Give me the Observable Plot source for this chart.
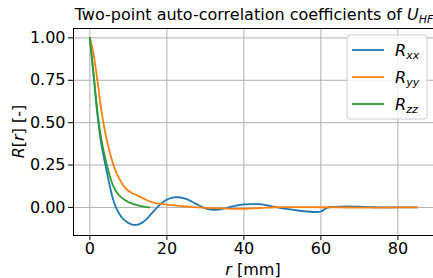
<!DOCTYPE html>
<html>
<head>
<meta charset="utf-8">
<script src="https://cdn.jsdelivr.net/npm/d3@7"></script>
<script src="https://cdn.jsdelivr.net/npm/@observablehq/plot@0.6"></script>
<style>
  html, body { margin: 0; padding: 0; background: white; }
  #chart svg { display: block; }
</style>
</head>
<body>
<div id="chart"></div>
<script>
// ---- data ----
const seriesNames = ["xx", "yy", "zz"];
const seriesColors = ["#1f77b4", "#ff7f0e", "#2ca02c"];
const xTicks = [0, 20, 40, 60, 80];
const yTicks = [0, 0.25, 0.5, 0.75, 1.0];

const rxxR = [0,1,2,3,4,5,6,7,8,9,10,11,12,13,14,15,16,17,18,19,20,21,22,23,24,25,26,27,28,29,30,31,32,33,34,35,36,37,38,39,40,42,44,46,48,50,52,54,56,58,59,60,61,62,63,65,67,69,71,74,77,80,85];
const rxxV = [1,0.77,0.54,0.37,0.255,0.145,0.05,-0.01,-0.05,-0.075,
  -0.092,-0.101,-0.103,-0.097,-0.083,-0.062,-0.037,-0.012,0.012,0.032,
  0.046,0.055,0.059,0.06,0.057,0.05,0.04,0.028,0.016,0.005,
  -0.005,-0.011,-0.014,-0.014,-0.011,-0.006,0.0,0.006,0.011,0.015,
  0.018,0.02,0.019,0.012,0.003,-0.005,-0.012,-0.018,-0.023,-0.027,
  -0.027,-0.024,-0.01,0.0,0.003,0.005,0.006,0.005,0.003,0.001,0,0,0];

const ryyR = [0,1,2,3,4,5,6,7,8,9,10,11,12,13,14,15,16,17,18,19,20,22,24,26,28,30,32,35,38,40,42,44,46,48,50,55,60,65,70,75,80,85];
const ryyV = [1,0.9,0.74,0.57,0.44,0.34,0.26,0.2,0.155,0.12,
  0.098,0.084,0.074,0.063,0.052,0.041,0.032,0.026,0.022,0.019,
  0.017,0.012,0.007,0.003,0.0,-0.002,-0.004,-0.006,-0.008,-0.008,
  -0.006,-0.004,-0.001,0.001,0.002,0.002,0.001,0.0,-0.001,-0.001,0,0];

const rzzR = [0,1,2,3,4,5,6,7,8,9,10,11,12,13,14,15,15.5];
const rzzV = [1,0.78,0.56,0.40,0.29,0.20,0.13,0.088,0.062,0.045,0.032,0.022,0.015,0.009,0.005,0.002,0.0];

// ---- table ----
const allR = [rxxR, ryyR, rzzR];
const allV = [rxxV, ryyV, rzzV];
const rows = [];
seriesNames.forEach((s, i) => {
  allR[i].forEach((r, j) => rows.push({series: s, r, v: allV[i][j]}));
});

const W = 433, H = 278;
const FONT = "DejaVu Sans, sans-serif";

const chart = Plot.plot({
  width: W,
  height: H,
  marginLeft: 73,
  marginRight: 0,
  marginTop: 28,
  marginBottom: 43,
  style: {fontFamily: FONT, fontSize: "16px", color: "#000", background: "white"},
  x: {domain: [-4.25, 89.25]},
  y: {domain: [-0.1655, 1.0555]},
  color: {domain: seriesNames, range: seriesColors},
  marks: [
    Plot.gridX(xTicks, {stroke: "#b0b0b0", strokeOpacity: 1, strokeWidth: 1}),
    Plot.gridY(yTicks, {stroke: "#b0b0b0", strokeOpacity: 1, strokeWidth: 1}),
    Plot.line(rows, {x: "r", y: "v", z: "series", stroke: "series", strokeWidth: 1.8, curve: "catmull-rom"}),
    Plot.axisX({ticks: xTicks, tickSize: 5, tickPadding: 2, label: null, fontSize: 16}),
    Plot.axisY({ticks: yTicks, tickSize: 5, tickPadding: 3, tickFormat: d3.format(".2f"), label: null, fontSize: 16}),
    Plot.frame({stroke: "black", strokeWidth: 1})
  ]
});
document.getElementById("chart").appendChild(chart);

const svg = d3.select(chart);
// Title
const title = svg.append("text")
  .attr("x", 254).attr("y", 20)
  .attr("text-anchor", "middle")
  .attr("font-family", FONT).attr("font-size", 16).attr("fill", "#000");
title.append("tspan").text("Two-point auto-correlation coefficients of ");
title.append("tspan").attr("font-style", "italic").text("U");
title.append("tspan").attr("font-style", "italic").attr("font-size", 11).attr("dy", 3).text("HF");

// Y label
const yl = svg.append("text")
  .attr("transform", "translate(24,131.5) rotate(-90)")
  .attr("text-anchor", "middle")
  .attr("font-family", FONT).attr("font-size", 16).attr("fill", "#000");
yl.append("tspan").attr("font-style", "italic").text("R");
yl.append("tspan").text("[");
yl.append("tspan").attr("font-style", "italic").text("r");
yl.append("tspan").text("] [-]");

// X label
const xl = svg.append("text")
  .attr("x", 253).attr("y", 275)
  .attr("text-anchor", "middle")
  .attr("font-family", FONT).attr("font-size", 16).attr("fill", "#000");
xl.append("tspan").attr("font-style", "italic").text("r");
xl.append("tspan").text(" [mm]");

// Legend
const lg = svg.append("g");
lg.append("rect")
  .attr("x", 347).attr("y", 35).attr("width", 80).attr("height", 84)
  .attr("rx", 3).attr("fill", "white").attr("fill-opacity", 0.8)
  .attr("stroke", "#cccccc").attr("stroke-width", 1);
seriesNames.forEach((s, i) => {
  const cy = 50 + i * 27;
  lg.append("line")
    .attr("x1", 352).attr("x2", 384).attr("y1", cy).attr("y2", cy)
    .attr("stroke", seriesColors[i]).attr("stroke-width", 1.8);
  const t = lg.append("text")
    .attr("x", 395).attr("y", cy + 6)
    .attr("text-anchor", "start")
    .attr("font-family", FONT).attr("font-size", 16).attr("fill", "#000");
  t.append("tspan").attr("font-style", "italic").text("R");
  t.append("tspan").attr("font-style", "italic").attr("font-size", 11).attr("dy", 3).text(s);
});
</script>
</body>
</html>
